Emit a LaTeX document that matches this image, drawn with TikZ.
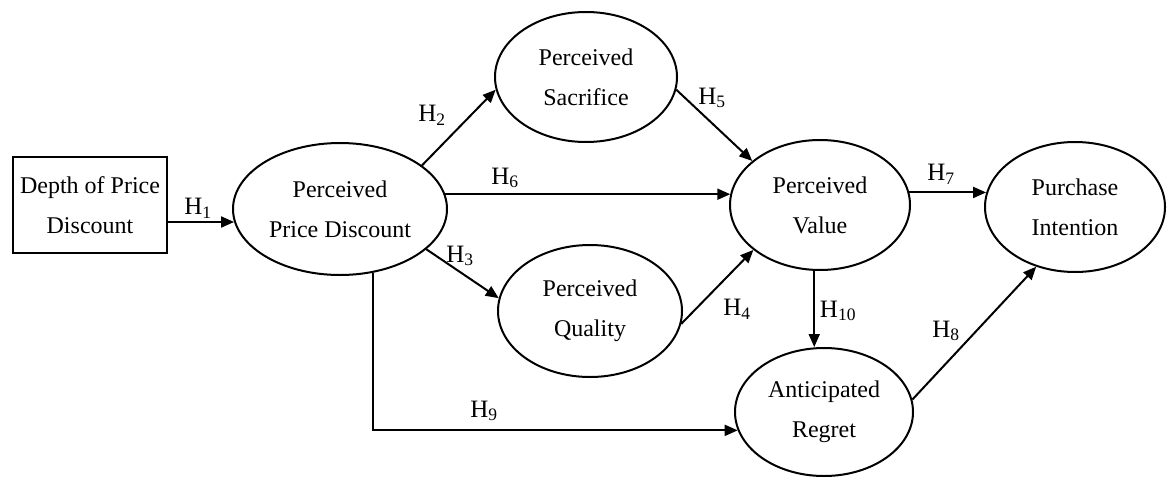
\documentclass[tikz,border=0pt]{standalone}
\usepackage{fontspec}
\setmainfont{Liberation Serif}
\usetikzlibrary{shapes.geometric,arrows.meta}
\begin{document}
\begin{tikzpicture}[x=1pt,y=-1pt,
  every node/.style={font=\fontsize{24}{40}\selectfont},
  construct/.style={draw,line width=2pt,ellipse,inner sep=0pt,align=center},
  manifest/.style={draw,line width=2pt,rectangle,inner sep=0pt,align=center,
    minimum width=154pt,minimum height=96pt},
  link/.style={line width=2pt,-{Triangle[length=13pt,width=11pt]}},
  hyp/.style={font=\fontsize{25}{28}\selectfont,inner sep=0pt}]
\useasboundingbox (0,0) rectangle (1169,479);

% constructs
\node[manifest] (dpd) at (90,205) {Depth of Price\\Discount};
\node[construct,minimum width=214pt,minimum height=132pt] (ppd) at (340,209) {Perceived\\Price Discount};
\node[construct,minimum width=182pt,minimum height=130pt] (ps) at (586,77) {Perceived\\Sacrifice};
\node[construct,minimum width=184pt,minimum height=132pt] (pq) at (590,311) {Perceived\\Quality};
\node[construct,minimum width=180pt,minimum height=130pt] (pv) at (820,205) {Perceived\\Value};
\node[construct,minimum width=180pt,minimum height=130pt] (pi) at (1075,207) {Purchase\\Intention};
\node[construct,minimum width=178pt,minimum height=128pt] (ar) at (824,412) {Anticipated\\Regret};

% hypothesised paths
\draw[link] (dpd.east |- ppd.187) -- (ppd.187);
\draw[link] (ppd.28) -- (ps.188);
\draw[link] (ppd.-25) -- (pq.172);
\draw[link] (ppd.8) -- (ppd.8 -| pv.173);
\draw[link] (ps.-8) -- (pv.147);
\draw[link] (pq.-8) -- (pv.214);
\draw[link] (pv.8) -- (pv.8 -| pi.171);
\draw[link] (pv.265) -- (pv.265 |- ar.north);
\draw[link] (ar.8) -- (pi.237);
\draw[link] (ppd.297) |- (ar.192);

% hypothesis labels
\node[hyp] (h1) at (198,208) {H\textsubscript{1}};
\node[hyp] (h2) at (432,115) {H\textsubscript{2}};
\node[hyp] (h3) at (460,256) {H\textsubscript{3}};
\node[hyp] (h4) at (737,309) {H\textsubscript{4}};
\node[hyp] (h5) at (712,98) {H\textsubscript{5}};
\node[hyp] (h6) at (505,178) {H\textsubscript{6}};
\node[hyp] (h7) at (941,174) {H\textsubscript{7}};
\node[hyp] (h8) at (946,331) {H\textsubscript{8}};
\node[hyp] (h9) at (484,411) {H\textsubscript{9}};
\node[hyp] (h10) at (838,311) {H\textsubscript{10}};
\end{tikzpicture}
\end{document}
